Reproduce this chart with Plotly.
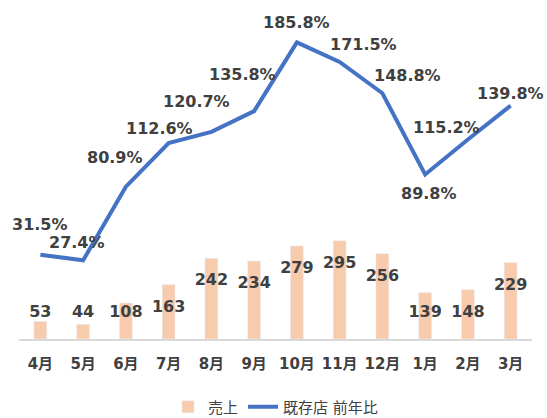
import plotly.graph_objects as go

months = ["4月", "5月", "6月", "7月", "8月", "9月", "10月", "11月", "12月", "1月", "2月", "3月"]
sales = [53, 44, 108, 163, 242, 234, 279, 295, 256, 139, 148, 229]
yoy = [31.5, 27.4, 80.9, 112.6, 120.7, 135.8, 185.8, 171.5, 148.8, 89.8, 115.2, 139.8]

# label offsets (style, pixels)
lbl_dx = [0, -6, -11, -9, -15, -12, 0, 24, 25, 4, -21, 0]
lbl_dy = [30, 18, 29, 15, 30, 37, 20, 18, 18, -19, 12, 12]

FONT = "DejaVu Sans, Noto Sans CJK JP, sans-serif"
TXT = "#404040"

fig = go.Figure()
fig.add_trace(go.Bar(
    x=months, y=sales, name="売上", marker_color="#F8CBAD",
    hoverinfo="skip",
))
# bar value labels, placed just inside the bar top (data-derived)
lab_y = [max(v - 69, 78) for v in sales]
fig.add_trace(go.Scatter(
    x=months, y=lab_y, mode="text", text=[str(v) for v in sales],
    textfont=dict(family=FONT, size=16, color=TXT, weight="bold"),
    textposition="middle center", showlegend=False, hoverinfo="skip",
    cliponaxis=False,
))
fig.add_trace(go.Scatter(
    x=months, y=yoy, name="既存店 前年比", mode="lines", yaxis="y2",
    line=dict(color="#4472C4", width=4), hoverinfo="skip",
))
for m, v, dx, dy in zip(months, yoy, lbl_dx, lbl_dy):
    fig.add_annotation(
        x=m, y=v, yref="y2", text=f"{v:.1f}%", showarrow=False,
        xshift=dx, yshift=dy, xanchor="center", yanchor="middle",
        font=dict(family=FONT, size=16, color=TXT, weight="bold"),
    )

fig.update_layout(
    width=547, height=418,
    margin=dict(l=19, r=15, t=10, b=79, autoexpand=False),
    paper_bgcolor="white", plot_bgcolor="white",
    bargap=0.7,
    showlegend=True,
    legend=dict(orientation="h", x=0.5, xanchor="center",
                yref="container", y=1 - 407 / 418, yanchor="middle",
                font=dict(family=FONT, size=15, color=TXT), traceorder="normal"),
    xaxis=dict(showgrid=False, showline=True, linecolor="#D9D9D9", linewidth=1.5,
               range=[-0.5, len(months) - 0.5],
               ticks="outside", ticklen=10, tickcolor="rgba(0,0,0,0)",
               tickfont=dict(family=FONT, size=15, color=TXT, weight="bold")),
    yaxis=dict(range=[0, 987], visible=False, showgrid=False),
    yaxis2=dict(range=[-29.8, 209.3], overlaying="y", visible=False, showgrid=False),
)

fig.write_html(
    "out.html",
    config={"displayModeBar": False},
    post_script="document.body.style.margin='0';document.body.style.overflow='hidden';",
)
